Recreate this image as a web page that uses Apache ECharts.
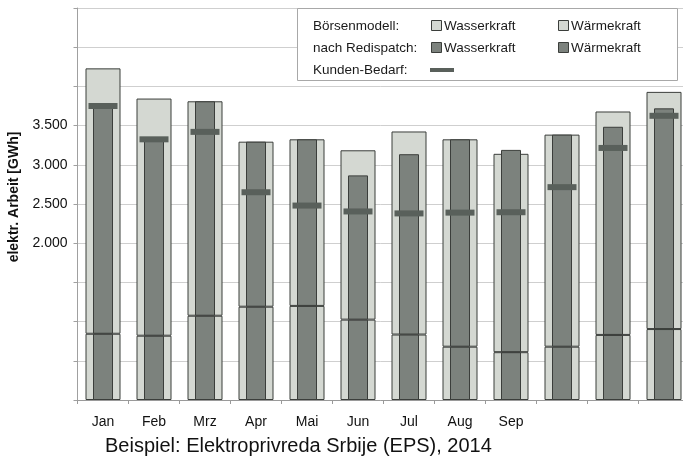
<!DOCTYPE html>
<html>
<head>
<meta charset="utf-8">
<script src="https://cdn.jsdelivr.net/npm/echarts@6/dist/echarts.min.js"></script>
<style>
  html, body { margin: 0; padding: 0; background: #fff; }
  #chart { width: 683px; height: 458px; }
</style>
</head>
<body>
<div id="chart"></div>
<script>
// Monthly generation (GWh), EPS 2014
const months = ['Jan', 'Feb', 'Mrz', 'Apr', 'Mai', 'Jun', 'Jul', 'Aug', 'Sep', 'Okt', 'Nov', 'Dez'];
const tickLabels = ['Jan', 'Feb', 'Mrz', 'Apr', 'Mai', 'Jun', 'Jul', 'Aug', 'Sep', '', '', ''];
const yTickLabels = [2000, 2500, 3000, 3500];

// hydro output is the same in both models
const wasserkraft = [845, 820, 1075, 1190, 1200, 1025, 835, 680, 610, 680, 830, 905];
// thermal output, market model
const boerseWaermekraft = [3385, 3025, 2735, 2105, 2125, 2160, 2590, 2645, 2530, 2705, 2850, 3025];
// thermal output after redispatch
const redispatchWaermekraft = [2905, 2505, 2735, 2105, 2125, 1840, 2300, 2645, 2580, 2705, 2655, 2815];
// customer demand
const kundenBedarf = [3750, 3325, 3420, 2650, 2480, 2405, 2380, 2390, 2395, 2715, 3215, 3625];

const LIGHT = '#d4d8d2';
const DARK = '#7c827d';
const EDGE = '#3b3e3b';
const MARK = '#59605b';
const FONT = '"Liberation Sans", Arial, sans-serif';

function fmt(v) {
  return String(v).replace(/\B(?=(\d{3})+(?!\d))/g, '.');
}

const chart = echarts.init(document.getElementById('chart'), null, { renderer: 'canvas' });

const legendRows = [
  { label: 'Börsenmodell:', fill: LIGHT, y: 26 },
  { label: 'nach Redispatch:', fill: DARK, y: 48 }
];
const legendFont = '13.5px ' + FONT;
const legendGraphics = [
  { type: 'rect', shape: { x: 297.5, y: 8.5, width: 380, height: 72 },
    style: { fill: '#fff', stroke: '#a8a8a8', lineWidth: 1 }, z: 100 }
];
legendRows.forEach(r => {
  legendGraphics.push({ type: 'text', x: 313, y: r.y, z: 101,
    style: { text: r.label, font: legendFont, fill: '#1a1a1a', textVerticalAlign: 'middle' } });
  [[431, 'Wasserkraft'], [558, 'Wärmekraft']].forEach(([x, t]) => {
    legendGraphics.push({ type: 'rect', z: 101, shape: { x: x + 0.5, y: r.y - 5.5, width: 10, height: 10 },
      style: { fill: r.fill, stroke: EDGE, lineWidth: 1 } });
    legendGraphics.push({ type: 'text', x: x + 13, y: r.y, z: 101,
      style: { text: t, font: legendFont, fill: '#1a1a1a', textVerticalAlign: 'middle' } });
  });
});
legendGraphics.push({ type: 'text', x: 313, y: 70, z: 101,
  style: { text: 'Kunden-Bedarf:', font: legendFont, fill: '#1a1a1a', textVerticalAlign: 'middle' } });
legendGraphics.push({ type: 'rect', z: 101, shape: { x: 430, y: 68, width: 24, height: 4 },
  style: { fill: MARK } });

const edge = { borderColor: EDGE, borderWidth: 1 };

chart.setOption({
  animation: false,
  backgroundColor: '#fff',
  title: {
    text: 'Beispiel: Elektroprivreda Srbije (EPS), 2014',
    left: 100, top: 431,
    textStyle: { fontFamily: FONT, fontSize: 20, fontWeight: 'normal', color: '#111' }
  },
  grid: { left: 77.5, top: 8, width: 612, height: 392, outerBoundsMode: 'none', containLabel: false },
  xAxis: [
    {
      type: 'category', data: months,
      axisLine: { lineStyle: { color: '#9a9a9a' } },
      axisTick: { show: true, length: 4, lineStyle: { color: '#9a9a9a' } },
      axisLabel: { margin: 15, fontFamily: FONT, fontSize: 14, color: '#111',
        formatter: (v, i) => tickLabels[i] }
    },
    { type: 'category', data: months, show: false }
  ],
  yAxis: {
    type: 'value', min: 0, max: 5000, interval: 500,
    name: 'elektr. Arbeit [GWh]', nameLocation: 'middle', nameGap: 48, nameRotate: 90,
    nameTextStyle: { fontFamily: FONT, fontSize: 14, fontWeight: 'bold', color: '#111', padding: [0, 0, 0, 14] },
    axisLine: { show: true, lineStyle: { color: '#a0a0a0' } },
    axisTick: { show: true, length: 4, lineStyle: { color: '#a0a0a0' } },
    axisLabel: { margin: 10, fontFamily: FONT, fontSize: 14, color: '#111',
      formatter: v => yTickLabels.includes(v) ? fmt(v) : '' },
    splitLine: { lineStyle: { color: '#cfcfcf' } }
  },
  series: [
    { name: 'Börsenmodell Wasserkraft', type: 'bar', xAxisIndex: 0, stack: 'boerse', barWidth: 35,
      data: wasserkraft, itemStyle: Object.assign({ color: LIGHT }, edge) },
    { name: 'Börsenmodell Wärmekraft', type: 'bar', xAxisIndex: 0, stack: 'boerse', barWidth: 35,
      data: boerseWaermekraft, itemStyle: Object.assign({ color: LIGHT }, edge) },
    { name: 'nach Redispatch Wasserkraft', type: 'bar', xAxisIndex: 1, stack: 'redis', barWidth: 20,
      data: wasserkraft, itemStyle: Object.assign({ color: DARK }, edge) },
    { name: 'nach Redispatch Wärmekraft', type: 'bar', xAxisIndex: 1, stack: 'redis', barWidth: 20,
      data: redispatchWaermekraft, itemStyle: Object.assign({ color: DARK }, edge) },
    {
      name: 'Kunden-Bedarf', type: 'scatter', xAxisIndex: 0, data: kundenBedarf,
      symbol: 'rect', symbolSize: [29, 6], z: 5,
      itemStyle: { color: MARK, opacity: 1 }
    }
  ],
  graphic: legendGraphics
});
</script>
</body>
</html>
